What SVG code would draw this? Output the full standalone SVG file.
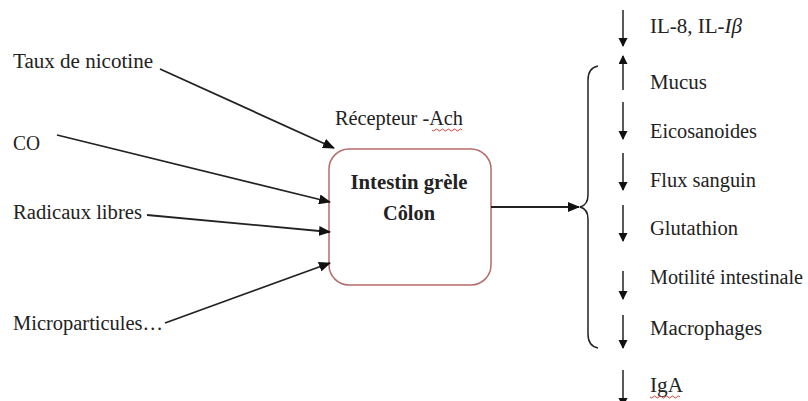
<svg xmlns="http://www.w3.org/2000/svg" width="808" height="401" viewBox="0 0 808 401">
<style>
text{font-family:"Liberation Serif","Times New Roman",serif;fill:#222;font-size:20px}
.b{font-weight:bold;text-anchor:middle}
.c{stroke:#222;stroke-width:1.8;fill:none}
.s{stroke:#222;stroke-width:1.5;fill:none}
.w{stroke:#d04040;stroke-width:1;fill:none}
</style>
<defs>
<marker id="ah" markerWidth="12" markerHeight="10" refX="11" refY="5" orient="auto" markerUnits="userSpaceOnUse">
<path d="M0,0 L12,5 L0,10 Z" fill="#111"/>
</marker>
<marker id="sh" markerWidth="9" markerHeight="10" refX="8" refY="4.5" orient="auto" markerUnits="userSpaceOnUse">
<path d="M0,0 L9,4.5 L0,9 Z" fill="#111"/>
</marker>
</defs>
<rect width="808" height="401" fill="#fff"/>
<g id="n-nicotine"><text x="13" y="68" textLength="140" lengthAdjust="spacingAndGlyphs">Taux de nicotine</text></g>
<g id="n-co"><text x="13" y="150" textLength="27" lengthAdjust="spacingAndGlyphs">CO</text></g>
<g id="n-radicaux"><text x="13" y="219" textLength="129" lengthAdjust="spacingAndGlyphs">Radicaux libres</text></g>
<g id="n-micro"><text x="13" y="330" textLength="150" lengthAdjust="spacingAndGlyphs">Microparticules…</text></g>
<g id="n-recepteur"><text x="335" y="125" textLength="128" lengthAdjust="spacingAndGlyphs">Récepteur -Ach</text>
<path class="w" d="M432,130 q1.5,2 3,0 t3,0 t3,0 t3,0 t3,0 t3,0 t3,0 t3,0 t3,0 t3,0"/></g>
<g id="n-intestin">
<rect x="329" y="149" width="162" height="136" rx="20" fill="#fff" stroke="#b86a6a" stroke-width="1.5"/>
<text class="b" x="409" y="189" textLength="117" lengthAdjust="spacingAndGlyphs">Intestin grèle</text>
<text class="b" x="409" y="220" textLength="52" lengthAdjust="spacingAndGlyphs">Côlon</text>
</g>
<g id="connectors">
<line class="c" x1="160" y1="69" x2="334" y2="148" marker-end="url(#ah)"/>
<line class="c" x1="57" y1="135" x2="330" y2="202" marker-end="url(#ah)"/>
<line class="c" x1="147" y1="215" x2="330" y2="232" marker-end="url(#ah)"/>
<line class="c" x1="165" y1="323" x2="330" y2="263" marker-end="url(#ah)"/>
<line class="c" x1="491" y1="207" x2="579" y2="207" marker-end="url(#ah)"/>
<path class="s" d="M598,66 Q588,68 588,80 L588,195 Q588,205 580,207 Q588,209 588,219 L588,334 Q588,346 598,348"/>
<line class="s" x1="623" y1="10" x2="623" y2="46" marker-end="url(#sh)"/>
<line class="s" x1="623" y1="90" x2="623" y2="56" marker-end="url(#sh)"/>
<line class="s" x1="623" y1="102" x2="623" y2="139" marker-end="url(#sh)"/>
<line class="s" x1="623" y1="153" x2="623" y2="190" marker-end="url(#sh)"/>
<line class="s" x1="623" y1="205" x2="623" y2="241" marker-end="url(#sh)"/>
<line class="s" x1="623" y1="271" x2="623" y2="299" marker-end="url(#sh)"/>
<line class="s" x1="623" y1="315" x2="623" y2="348" marker-end="url(#sh)"/>
<line class="s" x1="623" y1="370" x2="623" y2="406" marker-end="url(#sh)"/>
</g>
<g id="n-il8"><text x="650" y="33" textLength="92" lengthAdjust="spacingAndGlyphs">IL-8, IL-<tspan font-style="italic">Iβ</tspan></text></g>
<g id="n-mucus"><text x="650" y="89" textLength="57" lengthAdjust="spacingAndGlyphs">Mucus</text></g>
<g id="n-eico"><text x="650" y="138" textLength="107" lengthAdjust="spacingAndGlyphs">Eicosanoides</text></g>
<g id="n-flux"><text x="650" y="187" textLength="106" lengthAdjust="spacingAndGlyphs">Flux sanguin</text></g>
<g id="n-glut"><text x="650" y="235" textLength="88" lengthAdjust="spacingAndGlyphs">Glutathion</text></g>
<g id="n-motil"><text x="650" y="284" textLength="153" lengthAdjust="spacingAndGlyphs">Motilité intestinale</text></g>
<g id="n-macro"><text x="650" y="335" textLength="112" lengthAdjust="spacingAndGlyphs">Macrophages</text></g>
<g id="n-iga"><text x="650" y="392" textLength="33" lengthAdjust="spacingAndGlyphs">IgA</text>
<path class="w" d="M650,397 q1.5,2 3,0 t3,0 t3,0 t3,0 t3,0 t3,0 t3,0 t3,0 t3,0 t3,0"/></g>
</svg>
